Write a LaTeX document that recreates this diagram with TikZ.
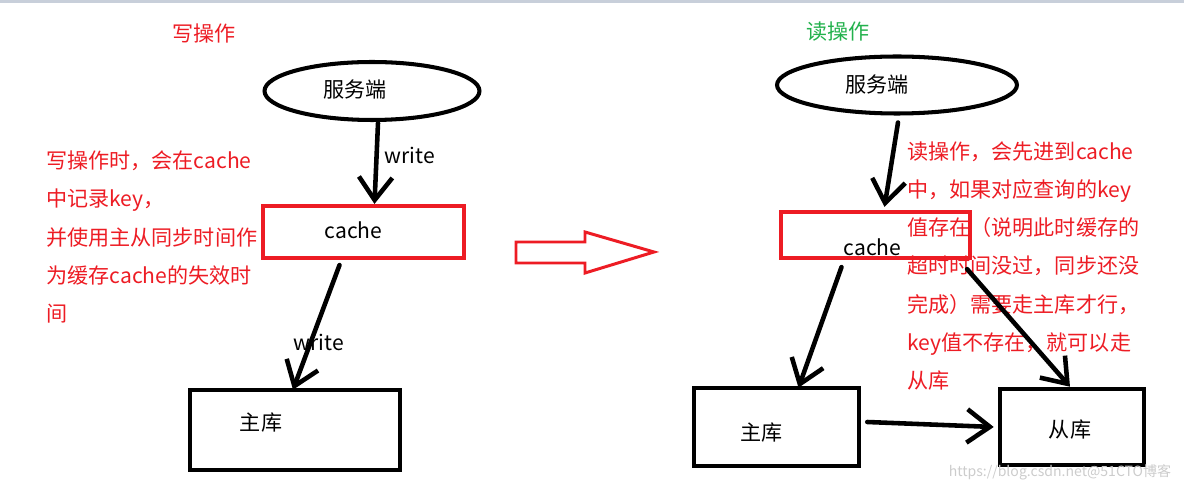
\documentclass[tikz,border=0pt]{standalone}
\usepackage{fontspec}
\setmainfont{Noto Sans CJK SC}
\usepackage{tikz}
\usetikzlibrary{calc}
\usetikzlibrary{arrows.meta}
\usetikzlibrary{shapes.geometric}
\definecolor{paintred}{HTML}{ED1C24}
\definecolor{paintgreen}{HTML}{22B14C}
\definecolor{bandgray}{HTML}{C8CFDA}
\tikzset{
    hand/.style={line width=2.6pt, line cap=round, -{Straight Barb[length=13pt,width=19pt]}},
    srv/.style={draw, ellipse, line width=2.3pt, inner sep=0pt},
    cachebox/.style={draw=paintred, line width=2.4pt, inner sep=0pt},
    dbbox/.style={draw, line width=2.6pt, inner sep=0pt},
    note/.style={text=paintred, align=left, anchor=west, inner sep=0pt},
    bigarrow/.style={draw=paintred, line width=1.7pt},
    wm/.style={text=black!20, inner sep=0pt, font=\fontsize{8}{9}\selectfont}
}

\begin{document}
\begin{tikzpicture}[x=0.02cm, y=-0.02cm, font=\fontsize{12}{21.8}\selectfont]
    \useasboundingbox (0,0) rectangle (1184,489);
    \fill[bandgray] (0,0) rectangle (1184,3);

    \node[text=paintred] (titleW) at (204,34) {写操作};
    \node[text=paintgreen] (titleR) at (838,32) {读操作};

    \node[srv, minimum width=4.3cm, minimum height=1.16cm, label={[shift={(-17,-1)}]center:服务端}] (srvL) at (372,91) {};
    \node[cachebox, minimum width=4.02cm, minimum height=1.04cm, label={[shift={(-10,-2)}]center:cache}] (cacheL) at (363.5,232) {};
    \node[dbbox, minimum width=4.2cm, minimum height=1.6cm, label={[shift={(-34,-7)}]center:主库}] (masterL) at (295,430) {};
    \node[note] (noteL) at (46,237) {写操作时，会在cache\\中记录key，\\并使用主从同步时间作\\为缓存cache的失效时\\间};

    \node[srv, minimum width=4.8cm, minimum height=1.14cm, label={[shift={(-20,0)}]center:服务端}] (srvR) at (897,85) {};
    \node[cachebox, minimum width=3.78cm, minimum height=0.92cm, label={[shift={(-3,12)}]center:cache}] (cacheR) at (875.5,235) {};
    \node[dbbox, minimum width=3.3cm, minimum height=1.56cm, label={[shift={(-15,6)}]center:主库}] (masterR) at (776.5,427) {};
    \node[dbbox, minimum width=2.88cm, minimum height=1.52cm, label={[shift={(-2,3)}]center:从库}] (slaveR) at (1072,427) {};
    \node[note] (noteR) at (907,266) {读操作，会先进到cache\\中，如果对应查询的key\\值存在（说明此时缓存的\\超时时间没过，同步还没\\完成）需要走主库才行，\\key值不存在，就可以走\\从库};

    \draw[hand] ($(srvL.south)+(6,1)$) -- ($(cacheL.north)+(11,0)$) node[pos=0.4, right] {write};
    \draw[hand] ($(cacheL.south)+(-24,5)$) -- ($(masterL.north)+(-2,2)$) node[pos=0.62, shift={(8,0)}] {write};

    \draw[bigarrow] (516,242) -- (585,242) -- (585,232) -- (654,252) -- (585,273) -- (585,263) -- (516,263) -- cycle;

    \draw[hand] ($(srvR.south)+(1,7)$) -- ($(cacheR.north)+(9,-3)$);
    \draw[hand] ($(cacheR.south)+(-34,7)$) -- ($(masterR.north)+(22,2)$);
    \draw[hand] ($(cacheR.south east)+(-5,9)$) -- ($(slaveR.north)+(-2,0)$);
    \draw[hand] ($(masterR.east)+(6,-5)$) -- ($(slaveR.west)+(-4,0)$);

    \node[wm] (mark) at (1060,472) {https://blog.csdn.net@51CTO博客};
\end{tikzpicture}
\end{document}
